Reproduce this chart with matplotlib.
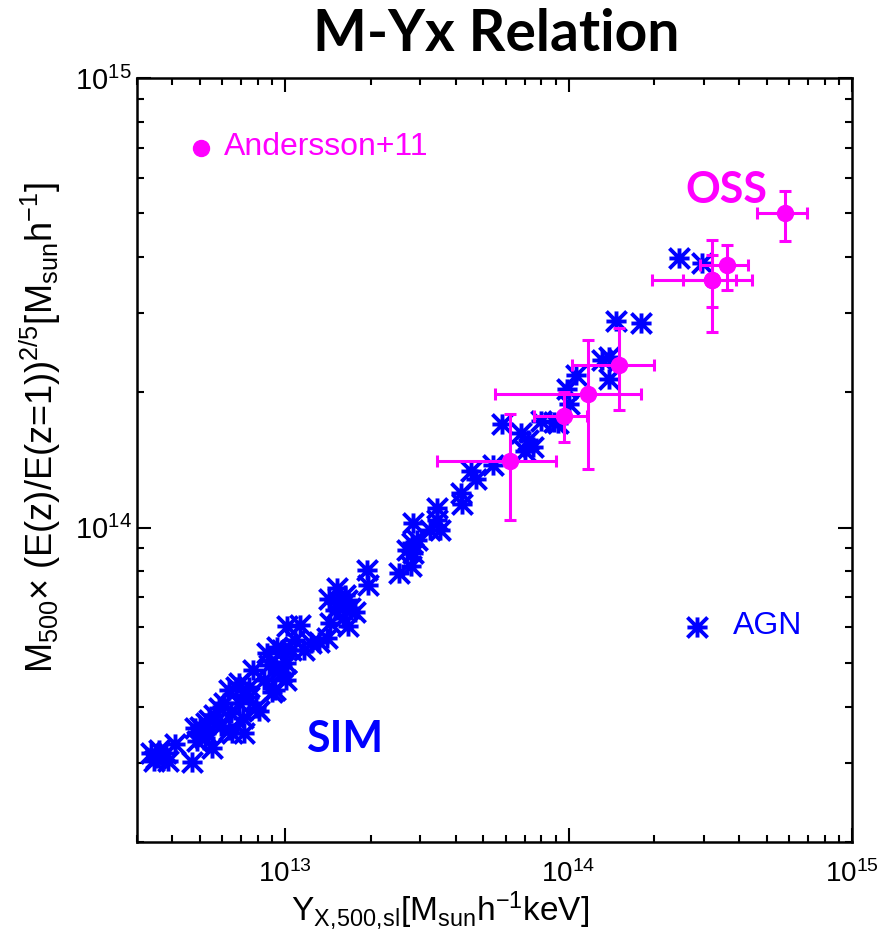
import numpy as np
import matplotlib
matplotlib.use("Agg")
import matplotlib.pyplot as plt
from matplotlib.path import Path
from matplotlib.ticker import LogLocator, NullFormatter

plt.rcParams['font.family'] = ['Liberation Sans', 'DejaVu Sans']
plt.rcParams['mathtext.fontset'] = 'custom'
plt.rcParams['mathtext.rm'] = 'Liberation Sans'
plt.rcParams['mathtext.it'] = 'Liberation Sans:italic'
plt.rcParams['mathtext.default'] = 'regular'

BLUE = '#0000ff'
MAGENTA = '#ff00ff'

# simulated clusters: Y_X in units of 1e13, M in units of 1e14
sim_yx = [0.350, 0.337, 0.359, 0.380, 0.410, 0.387, 0.345, 0.470, 0.490, 0.500,
          0.512, 0.527, 0.527, 0.550, 0.520, 0.480, 0.540, 0.582, 0.607, 0.632,
          0.632, 0.648, 0.670, 0.686, 0.686, 0.715, 0.745, 0.745, 0.769, 0.789,
          0.808, 0.863, 0.899, 0.936, 0.952, 0.976, 0.976, 1.008, 1.008, 0.968,
          1.016, 0.921, 1.130, 1.237, 1.321, 1.399, 1.434, 1.422, 1.519, 1.556,
          1.648, 1.690, 1.595, 1.662, 1.494, 1.622, 1.760, 1.942, 1.958, 2.523,
          2.786, 2.696, 2.831, 2.806, 2.831, 2.925, 3.254, 3.445, 3.532, 3.445,
          4.159, 4.198, 4.519, 4.706, 5.41, 5.82, 6.81, 7.21, 7.03, 7.50,
          8.01, 9.21, 8.91, 9.84, 10.0, 10.59, 13.09, 13.87, 13.87, 14.69,
          18.03, 24.43, 29.5, 0.559, 0.592, 0.643, 0.709, 0.842, 0.877, 1.050,
          1.085, 1.169]
sim_m = [0.308, 0.316, 0.320, 0.316, 0.331, 0.303, 0.303, 0.302, 0.336, 0.360,
         0.354, 0.367, 0.349, 0.324, 0.340, 0.358, 0.373, 0.398, 0.407, 0.435,
         0.354, 0.349, 0.442, 0.451, 0.407, 0.349, 0.420, 0.442, 0.482, 0.398,
         0.392, 0.526, 0.431, 0.542, 0.482, 0.490, 0.535, 0.458, 0.500, 0.475,
         0.604, 0.435, 0.607, 0.554, 0.557, 0.568, 0.614, 0.694, 0.735, 0.680,
         0.691, 0.663, 0.630, 0.604, 0.656, 0.708, 0.650, 0.806, 0.746, 0.794,
         0.823, 0.893, 0.880, 0.926, 1.026, 0.940, 0.990, 1.108, 0.990, 1.042,
         1.197, 1.131, 1.334, 1.286, 1.375, 1.698, 1.622, 1.563, 1.479, 1.509,
         1.724, 1.706, 1.715, 2.032, 1.881, 2.184, 2.359, 2.394, 2.139, 2.884,
         2.851, 3.984, 3.88, 0.383, 0.363, 0.388, 0.377, 0.458, 0.495, 0.535,
         0.562, 0.535]

# observed sample (Andersson+11), units of 1e14
oss_yx = [5.78, 3.62, 3.20, 3.20, 1.51, 1.17, 0.966, 0.622]
oss_yx_lo = [4.62, 2.92, 1.97, 2.54, 1.03, 0.55, 0.755, 0.344]
oss_yx_hi = [6.92, 4.30, 4.44, 3.89, 2.00, 1.80, 1.16, 0.90]
oss_m = [5.00, 3.83, 3.55, 3.55, 2.30, 1.98, 1.77, 1.41]
oss_m_lo = [4.35, 3.37, 2.72, 3.10, 1.83, 1.35, 1.55, 1.04]
oss_m_hi = [5.62, 4.26, 4.36, 4.03, 2.78, 2.61, 2.00, 1.79]

# IDL style asterisk: plus + cross
star = Path([(-1, -1), (1, 1), (-1, 1), (1, -1), (0, -1), (0, 1), (-1, 0), (1, 0)],
            [Path.MOVETO, Path.LINETO] * 4)

fig = plt.figure(figsize=(8.88, 9.30), dpi=100)
ax = fig.add_axes([137 / 888, 1 - 842 / 930, 715 / 888, 764 / 930])

sx = np.array(sim_yx) * 1e13
sy = np.array(sim_m) * 1e14
ax.plot(sx, sy, ls='none', marker=star, ms=14.5, mew=2.8, mec=BLUE, mfc=BLUE)

ox = np.array(oss_yx) * 1e14
oy = np.array(oss_m) * 1e14
xerr = [ox - np.array(oss_yx_lo) * 1e14, np.array(oss_yx_hi) * 1e14 - ox]
yerr = [oy - np.array(oss_m_lo) * 1e14, np.array(oss_m_hi) * 1e14 - oy]
ax.errorbar(ox, oy, xerr=xerr, yerr=yerr, fmt='o', color=MAGENTA, ms=11.5,
            elinewidth=2.2, capsize=4, capthick=2.2, zorder=5)

ax.set_xscale('log')
ax.set_yscale('log')
ax.set_xlim(3e12, 1e15)
ax.set_ylim(2e13, 1e15)

for axis in (ax.xaxis, ax.yaxis):
    axis.set_major_locator(LogLocator(base=10))
    axis.set_minor_locator(LogLocator(base=10, subs=np.arange(2, 10)))
    axis.set_minor_formatter(NullFormatter())

ax.tick_params(which='both', direction='in', top=True, right=True, width=1.5)
ax.tick_params(which='major', length=10)
ax.tick_params(which='minor', length=5)
ax.tick_params(axis='x', labelsize=20, pad=13)
ax.tick_params(axis='y', labelsize=21, pad=4)
for s in ax.spines.values():
    s.set_linewidth(1.8)

ax.set_xlabel(r'Y$_{X,\!500,\!sl}$[M$_{sun}$h$^{-1}$keV]', fontsize=24)
ax.xaxis.set_label_coords(0.424, -0.062)
ax.set_ylabel(r'M$_{500}$$\times$ (E(z)/E(z=1))$^{2/5}$[M$_{sun}$h$^{-1}$]', fontsize=26)
ax.yaxis.set_label_coords(-0.103, 0.543)

# legend-like annotations
ax.plot([0.0896], [0.908], 'o', color=MAGENTA, ms=11.5, transform=ax.transAxes)
ax.text(0.122, 0.91, 'Andersson+11', color=MAGENTA, fontsize=23,
        va='center', ha='left', transform=ax.transAxes)
ax.plot([0.783], [0.281], ls='none', marker=star, ms=14.5, mew=2.8, mec=BLUE,
        transform=ax.transAxes)
ax.text(0.834, 0.283, 'AGN', color=BLUE, fontsize=23, va='center', ha='left',
        transform=ax.transAxes)

ax.text(0.824, 0.854, 'OSS', color=MAGENTA, fontsize=31, weight='bold',
        family='Lato', ha='center', va='center', transform=ax.transAxes)
ax.text(0.291, 0.135, 'SIM', color=BLUE, fontsize=31, weight='bold',
        family='Lato', ha='center', va='center', transform=ax.transAxes)

fig.text(0.559, 0.963, 'M-Yx Relation', fontsize=41, weight='bold', family='Lato',
         ha='center', va='center')

fig.savefig('out.png', dpi=100)
